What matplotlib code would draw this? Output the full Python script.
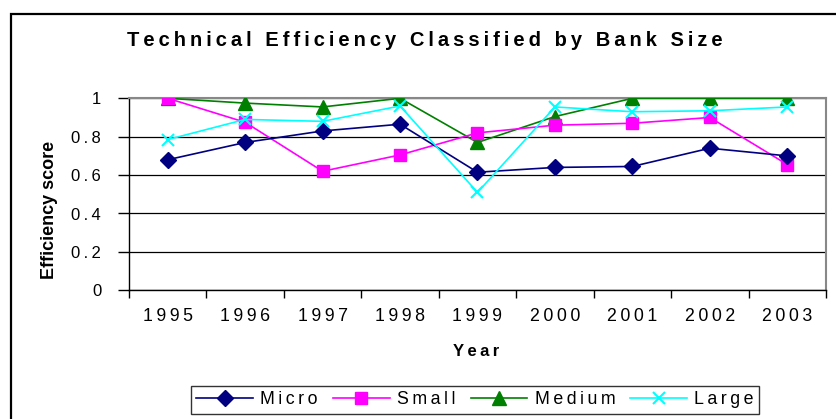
import matplotlib
matplotlib.use("Agg")
import matplotlib.pyplot as plt
from matplotlib.patches import Rectangle

plt.rcParams['font.family'] = ['Liberation Sans', 'DejaVu Sans']

years = ["1995", "1996", "1997", "1998", "1999", "2000", "2001", "2002", "2003"]
micro = [0.68, 0.77, 0.83, 0.865, 0.615, 0.64, 0.645, 0.74, 0.70]
small = [1.00, 0.875, 0.62, 0.705, 0.82, 0.86, 0.87, 0.90, 0.655]
medium = [1.00, 0.975, 0.955, 1.00, 0.77, 0.905, 1.00, 1.00, 1.00]
large = [0.785, 0.89, 0.88, 0.96, 0.51, 0.955, 0.93, 0.935, 0.955]
yticks = [0, 0.2, 0.4, 0.6, 0.8, 1]
ytick_labels = ["0", "0.2", "0.4", "0.6", "0.8", "1"]

TS = '\u2009'
def sp(s):
    return TS.join(s)

W, H = 837, 419
fig = plt.figure(figsize=(W / 100, H / 100), dpi=100)

# outer chart frame
fig.patches.append(Rectangle((11 / W, -0.1), 1.2, 1 - 14 / H + 0.1, transform=fig.transFigure,
                             fill=False, edgecolor='black', linewidth=1.6, zorder=0))

L, R, T, B = 129, 826, 98.3, 290.3
ax = fig.add_axes([L / W, 1 - B / H, (R - L) / W, (B - T) / H])

x = list(range(len(years)))
ax.plot(x, micro, color='#000080', marker='D', markersize=8, linewidth=1.2, label=sp('Micro'), zorder=5)
ax.plot(x, small, color='#FF00FF', marker='s', markersize=8.5, linewidth=1.2, label=sp('Small'), zorder=4)
ax.plot(x, medium, color='#008000', marker='^', markersize=9.5, linewidth=1.2, label=sp('Medium'), zorder=3)
ax.plot(x, large, color='#00FFFF', marker='x', markersize=9, markeredgewidth=1.5, linewidth=1.2,
        label=sp('Large'), zorder=6)

ax.set_xlim(-0.5, len(years) - 0.5)
ax.set_ylim(0, 1)
ax.set_yticks(yticks)
ax.set_yticklabels([sp(t) for t in ytick_labels], fontsize=12)
ax.set_xticks([i - 0.5 for i in range(len(years) + 1)], minor=False)
ax.set_xticklabels([])
ax.set_xticks(x, minor=True)
ax.set_xticklabels([sp(y) for y in years], minor=True, fontsize=12.8)
ax.tick_params(axis='x', which='minor', length=0, pad=13)
ax.tick_params(axis='x', which='major', length=5.5, width=1, direction='out')
ax.tick_params(axis='y', length=8, width=1, direction='out', pad=12)
ax.grid(axis='y', color='black', linewidth=0.9)
ax.set_axisbelow(True)
for s in ['top', 'right']:
    ax.spines[s].set_color('#888888')
    ax.spines[s].set_linewidth(1.5)
for s in ['left', 'bottom']:
    ax.spines[s].set_color('black')
    ax.spines[s].set_linewidth(1)

fig.text(425 / W, 1 - 41 / H, sp('Technical Efficiency Classified by Bank Size'),
         ha='center', va='center', fontsize=14.5, fontweight='bold')
fig.text(476 / W, 1 - 351 / H, sp('Year'), ha='center', va='center', fontsize=12, fontweight='bold')
fig.text(50 / W, 1 - 210 / H, 'Efficiency score', ha='center', va='center', rotation=90,
         fontsize=13, fontweight='bold')

leg = fig.legend(loc='upper left', bbox_to_anchor=(191 / W, 1 - 386 / H), ncol=4,
                 fontsize=12.8, frameon=True, fancybox=False, edgecolor='black',
                 handlelength=3.2, columnspacing=0.85, handletextpad=0.4, borderaxespad=0,
                 borderpad=0.3)
leg.get_frame().set_linewidth(1)

fig.savefig('out.png', dpi=100)
